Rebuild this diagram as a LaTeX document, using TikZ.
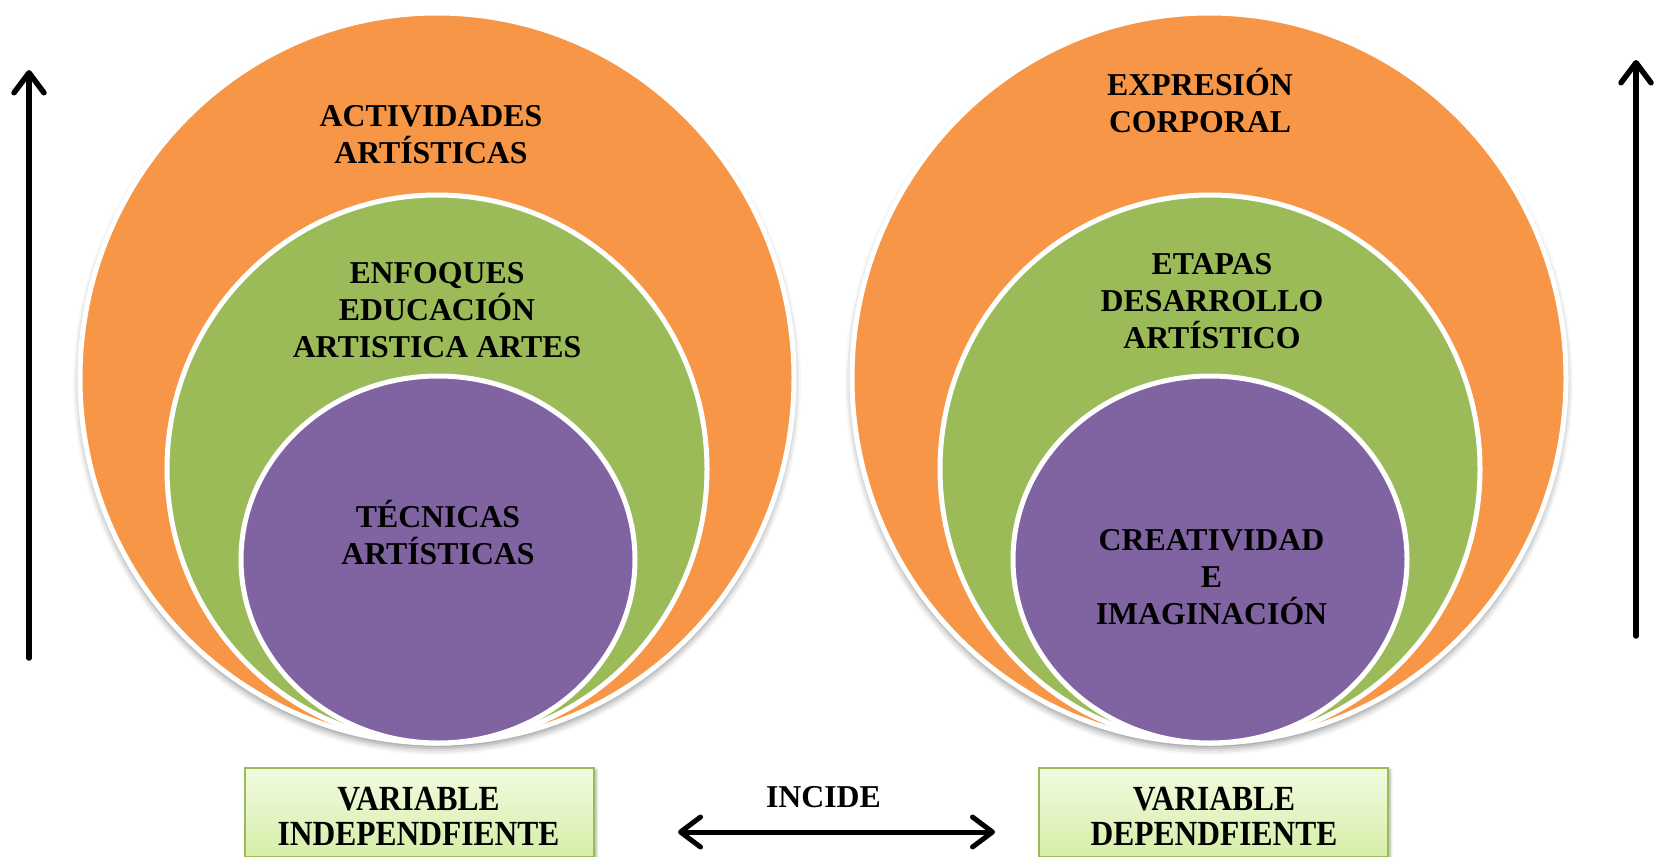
\documentclass[tikz,border=0pt]{standalone}
\usepackage{fontspec}
\setmainfont{Liberation Serif}
\usetikzlibrary{shapes.geometric,arrows.meta,shadows.blur}
\definecolor{corange}{HTML}{F79646}
\definecolor{cgreen}{HTML}{9BBB59}
\definecolor{cpurple}{HTML}{8064A2}
\definecolor{boxtop}{HTML}{F2FBE1}
\definecolor{boxbot}{HTML}{D6EEA8}
\tikzset{
  ring/.style={ellipse, draw=white, line width=5pt, inner sep=0pt, outer sep=0pt},
  outerring/.style={ring, fill=corange, minimum width=714pt, minimum height=730pt,
    blur shadow={shadow xshift=0pt, shadow yshift=-5pt, shadow blur radius=7pt, shadow opacity=45}},
  midring/.style={ring, fill=cgreen, minimum width=540pt, minimum height=548pt},
  innerring/.style={ring, fill=cpurple, minimum width=394pt, minimum height=367pt},
  lbl/.style={font=\fontsize{31.8}{36.8}\selectfont\bfseries, align=center, anchor=base, inner sep=0pt},
  vlbl/.style={font=\fontsize{31.5}{35}\selectfont\bfseries, align=center, anchor=base, inner sep=0pt},
  varbox/.style={draw=cgreen, line width=2pt, top color=boxtop, bottom color=boxbot,
    minimum width=349pt, minimum height=89pt, anchor=north west, inner sep=0pt,
    blur shadow={shadow xshift=2pt, shadow yshift=-2pt, shadow blur radius=3pt, shadow opacity=35}},
  bigarrow/.style={line width=5.5pt, line cap=round, -{Straight Barb[round,length=20pt,width=30pt]}},
  bothwarrow/.style={line width=5pt, line cap=round, {Straight Barb[round,length=20pt,width=30pt]}-{Straight Barb[round,length=20pt,width=30pt]}},
}
\newcommand{\tallt}[1]{\scalebox{1}[1.12]{#1}}
\begin{document}
\begin{tikzpicture}[x=1pt,y=-1pt]
\useasboundingbox (0,0) rectangle (1658,857);

% left diagram
\node[outerring] (outerL) at (437,378) {};
\node[midring] (midL) at (437,469) {};
\node[innerring] (innL) at (438,559.5) {};
\node[lbl] (tA) at (431,163) {ACTIVIDADES\\ARTÍSTICAS};
\node[lbl] (tB) at (437,357) {ENFOQUES\\EDUCACIÓN\\ARTISTICA ARTES};
\node[lbl] (tC) at (438,564) {TÉCNICAS\\ARTÍSTICAS};

% right diagram
\node[outerring] (outerR) at (1209,378) {};
\node[midring] (midR) at (1210,469) {};
\node[innerring] (innR) at (1210,559.5) {};
\node[lbl] (tD) at (1200,132.7) {EXPRESIÓN\\CORPORAL};
\node[lbl] (tE) at (1212,348) {ETAPAS\\DESARROLLO\\ARTÍSTICO};
\node[lbl] (tF) at (1211.5,624) {CREATIVIDAD\\E\\IMAGINACIÓN};

% bottom boxes
\node[varbox] (boxL) at (244,767) {};
\node[varbox] (boxR) at (1038,767) {};
\node[vlbl] (vL) at (418.5,845) {\tallt{VARIABLE}\\\tallt{INDEPENDFIENTE}};
\node[vlbl] (vR) at (1214,845) {\tallt{VARIABLE}\\\tallt{DEPENDFIENTE}};

% incide arrow
\node[lbl] (inc) at (823.5,807) {INCIDE};
\coordinate (incL) at (678,832);
\coordinate (incR) at (995,832);
\draw[bothwarrow] (incL) -- (incR);

% vertical arrows
\coordinate (upLb) at (29,658);
\coordinate (upLt) at (29,70);
\draw[bigarrow] (upLb) -- (upLt);
\coordinate (upRb) at (1636,636);
\coordinate (upRt) at (1636,60);
\draw[bigarrow] (upRb) -- (upRt);
\end{tikzpicture}
\end{document}
